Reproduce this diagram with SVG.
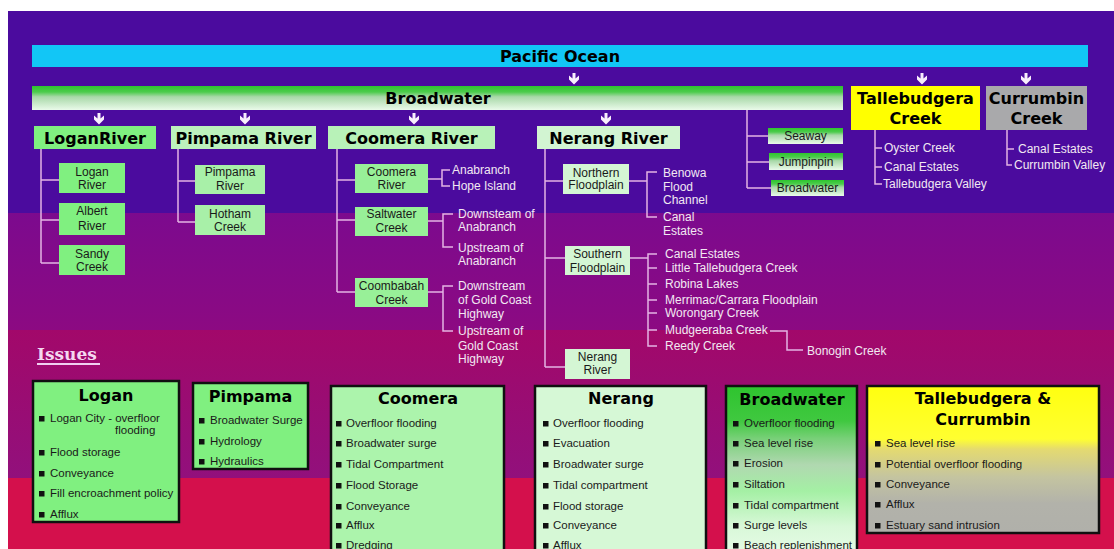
<svg xmlns="http://www.w3.org/2000/svg" width="1114" height="549" viewBox="0 0 1114 549">
<defs>
<linearGradient id="gBar" x1="0" y1="0" x2="0" y2="1">
<stop offset="0" stop-color="#2ec42e"/><stop offset="0.25" stop-color="#4ccc4c"/><stop offset="0.45" stop-color="#a8d8a8"/><stop offset="1" stop-color="#eafaea"/>
</linearGradient>
<linearGradient id="gBg2" x1="0" y1="0" x2="0" y2="1">
<stop offset="0" stop-color="#7c0a8e"/><stop offset="1" stop-color="#8c0a82"/>
</linearGradient>
<linearGradient id="gBg3" x1="0" y1="0" x2="0" y2="1">
<stop offset="0" stop-color="#a2086a"/><stop offset="0.45" stop-color="#9a0c72"/><stop offset="1" stop-color="#92107c"/>
</linearGradient>
<linearGradient id="gBw" x1="0" y1="0" x2="0" y2="1">
<stop offset="0" stop-color="#2ec42e"/><stop offset="0.2" stop-color="#40c840"/><stop offset="0.3" stop-color="#78d078"/><stop offset="0.45" stop-color="#b0d8b0"/><stop offset="0.6" stop-color="#a4f0a4"/><stop offset="0.8" stop-color="#d8f8d8"/><stop offset="1" stop-color="#eafcea"/>
</linearGradient>
<linearGradient id="gTc" x1="0" y1="0" x2="0" y2="1">
<stop offset="0" stop-color="#ffff10"/><stop offset="0.36" stop-color="#ffff30"/><stop offset="0.43" stop-color="#e4da70"/><stop offset="0.62" stop-color="#c4c4a0"/><stop offset="0.8" stop-color="#b2b2aa"/><stop offset="1" stop-color="#b0b0aa"/>
</linearGradient>
<path id="arw" d="M-1.5,0 H1.5 V5.5 L5,2.5 V6.5 L0,11.5 L-5,6.5 V2.5 L-1.5,5.5 Z" fill="#f8eefc"/>
<rect id="blt" width="5.5" height="5.5" fill="#111"/>
</defs>
<style>
.hdr{font-family:"DejaVu Sans",sans-serif;font-weight:bold;font-size:16px;fill:#000;text-anchor:middle}
.btx{font-family:"Liberation Sans",Arial,sans-serif;font-size:12px;fill:#1a1a1a;text-anchor:middle}
.lbl{font-family:"Liberation Sans",Arial,sans-serif;font-size:12px;fill:#f2e8f2}
.itm{font-family:"Liberation Sans",Arial,sans-serif;font-size:11.5px;fill:#1a1a1a}
.ln{stroke:#e4b4e4;stroke-width:1.5;fill:none}
.ib{stroke:#101010;stroke-width:2.5}
</style>
<rect width="1114" height="549" fill="#ffffff"/>
<rect x="8" y="11" width="1106" height="202" fill="#4b0b9e"/>
<rect x="8" y="213" width="1106" height="117" fill="url(#gBg2)"/>
<rect x="8" y="330" width="1106" height="148" fill="url(#gBg3)"/>
<rect x="8" y="478" width="1106" height="71" fill="#d4104c"/>

<g id="pacific">
<rect x="32" y="45" width="1056" height="22" fill="#12c6f6"/>
<text class="hdr" x="560" y="62" font-size="17">Pacific Ocean</text>
</g>
<g id="broadwater-bar">
<rect x="32" y="86" width="811" height="24" fill="url(#gBar)"/>
<text class="hdr" x="438" y="104">Broadwater</text>
</g>

<g id="connectors">
<use href="#arw" x="574" y="73"/>
<use href="#arw" x="922" y="73"/>
<use href="#arw" x="1026" y="73"/>
<use href="#arw" x="99" y="113"/>
<use href="#arw" x="245" y="113"/>
<use href="#arw" x="414" y="113"/>
<use href="#arw" x="606" y="113"/>
<path class="ln" d="M41,149 V263 M41,180 H59 M41,220 H59 M41,263 H59"/>
<path class="ln" d="M178,149 V222 M178,181 H195 M178,222 H195"/>
<path class="ln" d="M337,149 V292 M337,180 H355 M337,220 H355 M337,292 H355"/>
<path class="ln" d="M428,179 H442 M450,170 H442 V186 H450"/>
<path class="ln" d="M427,221 H443 M453,214 H443 V247 H453"/>
<path class="ln" d="M428,292 H443 M453,286 H443 V331 H453"/>
<path class="ln" d="M545,149 V367 M545,181 H563 M545,258 H565 M545,367 H565"/>
<path class="ln" d="M629,181 H647 M657,172 H647 V217 H657"/>
<path class="ln" d="M630,258 H648 M657,254 H648 V346 H657 M648,268 H657 M648,284 H657 M648,300 H657 M648,313 H657 M648,330 H657"/>
<path class="ln" d="M770,331 H787 V350 H803"/>
<path class="ln" d="M747,110 V188 M747,136 H768 M747,162 H769 M747,188 H771"/>
<path class="ln" d="M875,130 V184 H882 M875,148 H882 M875,167 H882"/>
<path class="ln" d="M1007,130 V165 H1012 M1007,149 H1014"/>
</g>

<g id="logan-river">
<rect x="34" y="126" width="122" height="23" fill="#80f080"/>
<text class="hdr" x="95" y="143.5">LoganRiver</text>
</g>
<g id="pimpama-river">
<rect x="171" y="126" width="145" height="23" fill="#bcf2bc"/>
<text class="hdr" x="243.5" y="143.5">Pimpama River</text>
</g>
<g id="coomera-river">
<rect x="328" y="126" width="167" height="23" fill="#b8f2b8"/>
<text class="hdr" x="411.5" y="143.5">Coomera River</text>
</g>
<g id="nerang-river">
<rect x="537" y="126" width="143" height="23" fill="#d2f4d2"/>
<text class="hdr" x="608.5" y="143.5">Nerang River</text>
</g>
<g id="tallebudgera-creek">
<rect x="851" y="86" width="129" height="44" fill="#ffff00"/>
<text class="hdr" x="915.5" y="104" font-size="16.5">Tallebudgera</text>
<text class="hdr" x="915.5" y="124" font-size="16.5">Creek</text>
</g>
<g id="currumbin-creek">
<rect x="986" y="86" width="101" height="44" fill="#a9a9ab"/>
<text class="hdr" x="1036.5" y="104" font-size="16.5">Currumbin</text>
<text class="hdr" x="1036.5" y="124" font-size="16.5">Creek</text>
</g>

<g id="logan-sub">
<rect x="59" y="163" width="66" height="30" fill="#80f080"/>
<text class="btx" x="92" y="176">Logan</text><text class="btx" x="92" y="189">River</text>
<rect x="59" y="203" width="66" height="32" fill="#80f080"/>
<text class="btx" x="92" y="215">Albert</text><text class="btx" x="92" y="230">River</text>
<rect x="59" y="245" width="66" height="30" fill="#80f080"/>
<text class="btx" x="92" y="258">Sandy</text><text class="btx" x="92" y="271">Creek</text>
</g>
<g id="pimpama-sub">
<rect x="195" y="165" width="70" height="29" fill="#a8f0a8"/>
<text class="btx" x="230" y="176">Pimpama</text><text class="btx" x="230" y="190">River</text>
<rect x="195" y="205" width="70" height="30" fill="#a8f0a8"/>
<text class="btx" x="230" y="218">Hotham</text><text class="btx" x="230" y="231">Creek</text>
</g>
<g id="coomera-sub">
<rect x="355" y="164" width="73" height="29" fill="#98f098"/>
<text class="btx" x="391.5" y="176">Coomera</text><text class="btx" x="391.5" y="189">River</text>
<rect x="355" y="207" width="73" height="29" fill="#98f098"/>
<text class="btx" x="391.5" y="218">Saltwater</text><text class="btx" x="391.5" y="232">Creek</text>
<rect x="355" y="278" width="73" height="29" fill="#98f098"/>
<text class="btx" x="391.5" y="290">Coombabah</text><text class="btx" x="391.5" y="304">Creek</text>
<text class="lbl" x="452" y="174">Anabranch</text>
<text class="lbl" x="452" y="190">Hope Island</text>
<text class="lbl" x="458" y="218">Downsteam of</text>
<text class="lbl" x="458" y="231">Anabranch</text>
<text class="lbl" x="458" y="252">Upstream of</text>
<text class="lbl" x="458" y="265">Anabranch</text>
<text class="lbl" x="458" y="290">Downstream</text>
<text class="lbl" x="458" y="304">of Gold Coast</text>
<text class="lbl" x="458" y="318">Highway</text>
<text class="lbl" x="458" y="335">Upstream of</text>
<text class="lbl" x="458" y="350">Gold Coast</text>
<text class="lbl" x="458" y="363">Highway</text>
</g>
<g id="nerang-sub">
<rect x="563" y="164" width="66" height="30" fill="#d4f6d4"/>
<text class="btx" x="596" y="177">Northern</text><text class="btx" x="596" y="189">Floodplain</text>
<rect x="565" y="246" width="65" height="29" fill="#d4f6d4"/>
<text class="btx" x="597.5" y="258">Southern</text><text class="btx" x="597.5" y="272">Floodplain</text>
<rect x="565" y="349" width="65" height="30" fill="#d4f6d4"/>
<text class="btx" x="597.5" y="361">Nerang</text><text class="btx" x="597.5" y="374">River</text>
<text class="lbl" x="663" y="177">Benowa</text>
<text class="lbl" x="663" y="191">Flood</text>
<text class="lbl" x="663" y="204">Channel</text>
<text class="lbl" x="663" y="221">Canal</text>
<text class="lbl" x="663" y="235">Estates</text>
<text class="lbl" x="665" y="258">Canal Estates</text>
<text class="lbl" x="665" y="272">Little Tallebudgera Creek</text>
<text class="lbl" x="665" y="288">Robina Lakes</text>
<text class="lbl" x="665" y="304">Merrimac/Carrara Floodplain</text>
<text class="lbl" x="665" y="317">Worongary Creek</text>
<text class="lbl" x="665" y="334">Mudgeeraba Creek</text>
<text class="lbl" x="665" y="350">Reedy Creek</text>
<text class="lbl" x="807" y="355">Bonogin Creek</text>
</g>
<g id="broadwater-sub">
<rect x="768" y="128" width="75" height="16" fill="url(#gBar)"/>
<text class="btx" x="805.5" y="140">Seaway</text>
<rect x="769" y="153" width="74" height="17" fill="url(#gBar)"/>
<text class="btx" x="806" y="166">Jumpinpin</text>
<rect x="771" y="180" width="73" height="16" fill="url(#gBar)"/>
<text class="btx" x="807.5" y="192">Broadwater</text>
</g>
<g id="tallebudgera-sub">
<text class="lbl" x="884" y="152">Oyster Creek</text>
<text class="lbl" x="884" y="171">Canal Estates</text>
<text class="lbl" x="883" y="188">Tallebudgera Valley</text>
</g>
<g id="currumbin-sub">
<text class="lbl" x="1018" y="153">Canal Estates</text>
<text class="lbl" x="1014" y="169">Currumbin Valley</text>
</g>

<g id="issues-title">
<text x="37" y="360" font-family="'DejaVu Serif',serif" font-weight="bold" font-size="17" fill="#f4d8f0">Issues</text>
<rect x="37" y="363" width="63" height="2" fill="#f0d0f0"/>
</g>

<g id="issue-logan">
<rect class="ib" x="33" y="381" width="146" height="141" fill="#80f080"/>
<text class="hdr" x="106" y="401">Logan</text>
<use href="#blt" x="39" y="416"/><text class="itm" x="50" y="422">Logan City - overfloor</text>
<text class="itm" x="115" y="434">flooding</text>
<use href="#blt" x="39" y="450"/><text class="itm" x="50" y="456">Flood storage</text>
<use href="#blt" x="39" y="471"/><text class="itm" x="50" y="477">Conveyance</text>
<use href="#blt" x="39" y="491"/><text class="itm" x="50" y="497">Fill encroachment policy</text>
<use href="#blt" x="39" y="512"/><text class="itm" x="50" y="518">Afflux</text>
</g>
<g id="issue-pimpama">
<rect class="ib" x="193" y="383" width="115" height="86" fill="#80f080"/>
<text class="hdr" x="250.5" y="402">Pimpama</text>
<use href="#blt" x="199" y="418"/><text class="itm" x="210" y="424">Broadwater Surge</text>
<use href="#blt" x="199" y="439"/><text class="itm" x="210" y="445">Hydrology</text>
<use href="#blt" x="199" y="459"/><text class="itm" x="210" y="465">Hydraulics</text>
</g>
<g id="issue-coomera">
<rect class="ib" x="331" y="386" width="173" height="175" fill="#acf4ac"/>
<text class="hdr" x="418" y="404">Coomera</text>
<use href="#blt" x="336" y="421"/><text class="itm" x="346" y="427">Overfloor flooding</text>
<use href="#blt" x="336" y="441"/><text class="itm" x="346" y="447">Broadwater surge</text>
<use href="#blt" x="336" y="462"/><text class="itm" x="346" y="468">Tidal Compartment</text>
<use href="#blt" x="336" y="483"/><text class="itm" x="346" y="489">Flood Storage</text>
<use href="#blt" x="336" y="504"/><text class="itm" x="346" y="510">Conveyance</text>
<use href="#blt" x="336" y="523"/><text class="itm" x="346" y="529">Afflux</text>
<use href="#blt" x="336" y="543"/><text class="itm" x="346" y="549">Dredging</text>
</g>
<g id="issue-nerang">
<rect class="ib" x="535" y="386" width="171" height="175" fill="#d6f8d6"/>
<text class="hdr" x="621" y="404">Nerang</text>
<use href="#blt" x="543" y="421"/><text class="itm" x="553" y="427">Overfloor flooding</text>
<use href="#blt" x="543" y="441"/><text class="itm" x="553" y="447">Evacuation</text>
<use href="#blt" x="543" y="462"/><text class="itm" x="553" y="468">Broadwater surge</text>
<use href="#blt" x="543" y="483"/><text class="itm" x="553" y="489">Tidal compartment</text>
<use href="#blt" x="543" y="504"/><text class="itm" x="553" y="510">Flood storage</text>
<use href="#blt" x="543" y="523"/><text class="itm" x="553" y="529">Conveyance</text>
<use href="#blt" x="543" y="543"/><text class="itm" x="553" y="549">Afflux</text>
</g>
<g id="issue-broadwater">
<rect class="ib" x="726" y="386" width="131" height="175" fill="url(#gBw)"/>
<text class="hdr" x="792" y="405">Broadwater</text>
<use href="#blt" x="733" y="421"/><text class="itm" x="744" y="427">Overfloor flooding</text>
<use href="#blt" x="733" y="441"/><text class="itm" x="744" y="447">Sea level rise</text>
<use href="#blt" x="733" y="461"/><text class="itm" x="744" y="467">Erosion</text>
<use href="#blt" x="733" y="482"/><text class="itm" x="744" y="488">Siltation</text>
<use href="#blt" x="733" y="503"/><text class="itm" x="744" y="509">Tidal compartment</text>
<use href="#blt" x="733" y="523"/><text class="itm" x="744" y="529">Surge levels</text>
<use href="#blt" x="733" y="543"/><text class="itm" x="744" y="549">Beach replenishment</text>
</g>
<g id="issue-tallebudgera-currumbin">
<rect class="ib" x="867" y="386" width="232" height="147" fill="url(#gTc)"/>
<text class="hdr" x="983" y="404" font-size="16.5">Tallebudgera &amp;</text>
<text class="hdr" x="983" y="425" font-size="16.5">Currumbin</text>
<use href="#blt" x="875" y="441"/><text class="itm" x="886" y="447">Sea level rise</text>
<use href="#blt" x="875" y="462"/><text class="itm" x="886" y="468">Potential overfloor flooding</text>
<use href="#blt" x="875" y="482"/><text class="itm" x="886" y="488">Conveyance</text>
<use href="#blt" x="875" y="502"/><text class="itm" x="886" y="508">Afflux</text>
<use href="#blt" x="875" y="523"/><text class="itm" x="886" y="529">Estuary sand intrusion</text>
</g>
</svg>
